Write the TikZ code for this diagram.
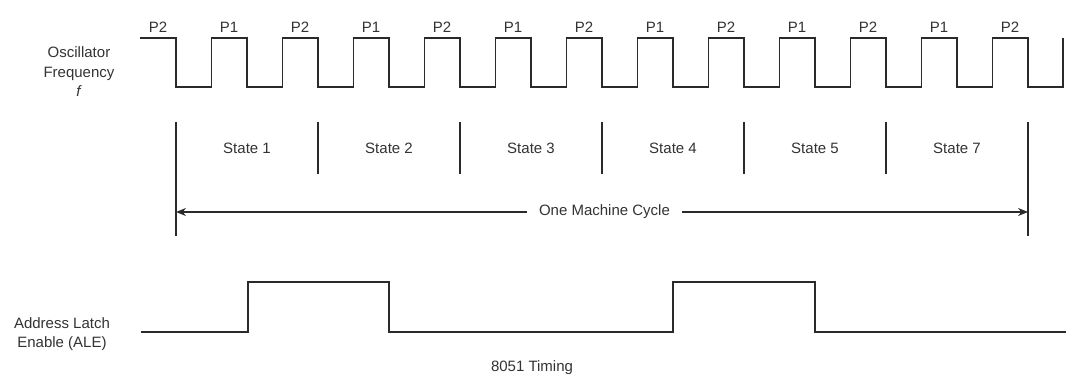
\documentclass[tikz,border=0pt]{standalone}
\usepackage{fontspec}
\setmainfont{Liberation Sans}
\usetikzlibrary{arrows.meta}
\definecolor{ink}{HTML}{2A2A2A}
\definecolor{txt}{HTML}{333333}
\begin{document}
\begin{tikzpicture}[x=1pt,y=-1pt,
  sig/.style={draw=ink,line width=1.4pt,line join=miter},
  sepline/.style={draw=ink,line width=1.3pt},
  lbl/.style={text=txt,font=\fontsize{15}{19.5}\selectfont,inner sep=0pt,align=center},
  cyclearrow/.style={draw=ink,line width=1.3pt,-{Stealth[length=10pt,width=8pt]}}]
\useasboundingbox[fill=white] (0,0) rectangle (1069,377);
% clock
\draw[sig] (140,38)
  \foreach \k in {0,...,11} {
    -- ({176+71*\k},38) -- ({176+71*\k},87) -- ({211.5+71*\k},87) -- ({211.5+71*\k},38)
  } -- (1028,38) -- (1028,87) -- (1063,87) -- (1063,38);
% phase labels
\foreach \k in {0,...,12} {
  \ifodd\k
    \node[lbl] (p\k) at ({158+71*\k},27) {P1};
  \else
    \node[lbl] (p\k) at ({158+71*\k},27) {P2};
  \fi
}
\node[lbl] (osc) at (79,72) {Oscillator\\Frequency\\\textit{f}};
% state separators
\draw[sepline] (176,122) -- (176,236);
\foreach \k in {1,...,5} {
  \draw[sepline] ({176+142*\k},122) -- ({176+142*\k},174);
}
\draw[sepline] (1028,122) -- (1028,236);
% state labels
\foreach \n [count=\i from 0] in {1,2,3,4,5,7} {
  \node[lbl] (s\n) at ({247+142*\i},148) {State \n};
}
% machine cycle arrow
\coordinate (cl) at (176,212);
\coordinate (cr) at (1028,212);
\node[lbl,inner xsep=12pt] (mc) at (604.5,212) {One Machine Cycle};
\draw[cyclearrow] (mc.west) -- (cl);
\draw[cyclearrow] (mc.east) -- (cr);
% ALE
\draw[sig] (141,332) -- (248,332) -- (248,282) -- (389,282) -- (389,332)
  -- (673,332) -- (673,282) -- (815,282) -- (815,332) -- (1066,332);
\node[lbl] (ale) at (62,334) {Address Latch\\Enable (ALE)};
\node[lbl] (title) at (532,368) {8051 Timing};
\end{tikzpicture}
\end{document}
